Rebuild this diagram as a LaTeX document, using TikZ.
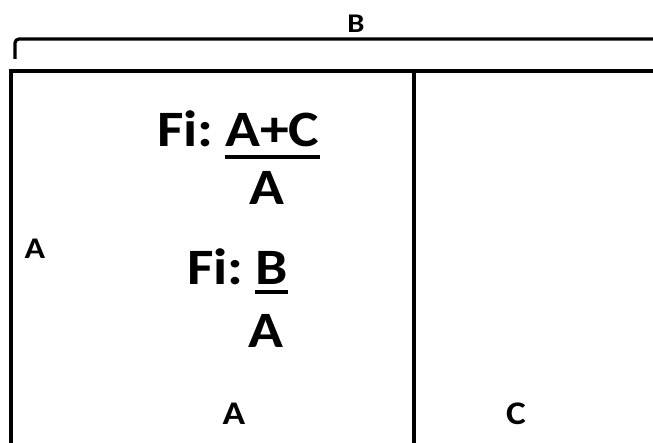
\documentclass[tikz,border=0pt]{standalone}
\usepackage{fontspec}
\setmainfont{Carlito}
\newfontfamily\wideface[FakeStretch=1.13]{Carlito}
\begin{document}
\begin{tikzpicture}[x=1pt,y=-1pt,
  line/.style={line width=3.2pt},
  uline/.style={line width=4pt},
  big/.style={font=\fontsize{51}{54}\wideface\bfseries, inner sep=0pt, anchor=base west},
  bigc/.style={font=\fontsize{51}{54}\wideface\bfseries, inner sep=0pt, anchor=base},
  small/.style={font=\fontsize{#1}{#1}\wideface\bfseries, inner sep=0pt, anchor=base}]
\useasboundingbox (0,0) rectangle (653,443);
% bracket
\coordinate (bl) at (15,59);
\coordinate (bc) at (15,39);
\coordinate (br) at (656,39);
\draw[line, rounded corners=4pt] (bl) -- (bc) -- (br);
\node[small=27] (B) at (356,33) {B};
% boxes
\coordinate (tl) at (11,71);
\coordinate (tm) at (414,71);
\coordinate (tr) at (656,71);
\coordinate (ll) at (11,446);
\coordinate (ml) at (414,446);
\draw[line] (ll) -- (tl) -- (tr);
\draw[line] (tm) -- (ml);
% texts
\node[big] (f1) at (157,147) {Fi:};
\node[big] (f1u) at (225,147) {A+C};
\draw[uline] ([yshift=-10pt]f1u.base west) -- ([yshift=-10pt]f1u.base east);
\node[bigc] (a1) at (267,205) {A};
\node[big] (f2) at (187,285) {Fi:};
\node[big] (f2u) at (255,285) {B};
\draw[uline] ([yshift=-7pt]f2u.base west) -- ([yshift=-7pt]f2u.base east);
\node[bigc] (a2) at (266,348) {A};
\node[small=30] (aL) at (35,259) {A};
\node[small=33] (aB) at (234,424) {A};
\node[small=33] (cB) at (516,424) {C};
\end{tikzpicture}
\end{document}
